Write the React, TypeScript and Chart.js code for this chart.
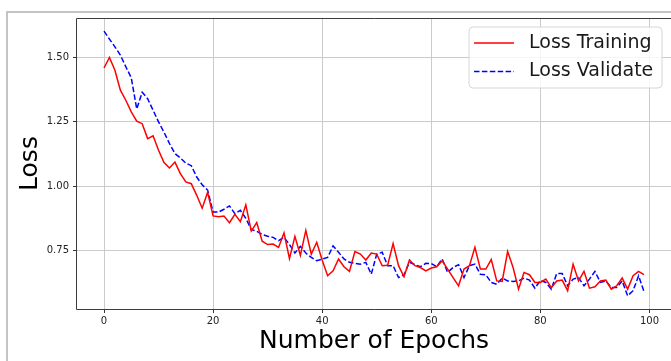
import React, { useEffect, useRef } from "react";
import { Chart, registerables } from "chart.js";

Chart.register(...registerables);

const lossTraining = [
  1.459, 1.5, 1.45, 1.373, 1.334, 1.289, 1.253, 1.243, 1.185, 1.196,
  1.14, 1.092, 1.071, 1.094, 1.049, 1.017, 1.01, 0.965, 0.915, 0.977,
  0.885, 0.882, 0.885, 0.859, 0.891, 0.863, 0.928, 0.826, 0.859, 0.787,
  0.774, 0.776, 0.763, 0.819, 0.719, 0.806, 0.732, 0.829, 0.737, 0.783,
  0.713, 0.653, 0.672, 0.718, 0.688, 0.67, 0.747, 0.737, 0.714, 0.741,
  0.737, 0.692, 0.694, 0.778, 0.692, 0.649, 0.714, 0.692, 0.685, 0.672,
  0.683, 0.688, 0.711, 0.679, 0.646, 0.614, 0.679, 0.692, 0.763, 0.679,
  0.679, 0.716, 0.633, 0.631, 0.747, 0.685, 0.601, 0.666, 0.657, 0.627,
  0.627, 0.64, 0.607, 0.633, 0.636, 0.595, 0.698, 0.633, 0.67, 0.605,
  0.61, 0.633, 0.636, 0.601, 0.614, 0.644, 0.601, 0.653, 0.67, 0.657,
];

const lossValidate = [
  1.602, 1.571, 1.541, 1.509, 1.464, 1.421, 1.3, 1.365, 1.34, 1.295,
  1.25, 1.21, 1.166, 1.127, 1.11, 1.09, 1.08, 1.036, 1.006, 0.985,
  0.9, 0.9, 0.911, 0.924, 0.894, 0.907, 0.876, 0.832, 0.826, 0.813,
  0.806, 0.802, 0.789, 0.802, 0.774, 0.741, 0.767, 0.741, 0.724, 0.711,
  0.718, 0.724, 0.769, 0.744, 0.718, 0.705, 0.701, 0.698, 0.705, 0.659,
  0.737, 0.744, 0.692, 0.692, 0.646, 0.657, 0.705, 0.696, 0.688, 0.701,
  0.7, 0.688, 0.718, 0.666, 0.685, 0.696, 0.646, 0.692, 0.698, 0.659,
  0.657, 0.627, 0.62, 0.644, 0.633, 0.631, 0.633, 0.644, 0.636, 0.605,
  0.635, 0.627, 0.601, 0.662, 0.662, 0.614, 0.64, 0.646, 0.614, 0.64,
  0.67, 0.627, 0.633, 0.607, 0.607, 0.633, 0.575, 0.595, 0.653, 0.592,
];

const xTicks = [0, 20, 40, 60, 80, 100];
const yTicks = [0.75, 1.0, 1.25, 1.5];

const seriesLabels = ["Loss Training", "Loss Validate"];
const xTitle = "Number of Epochs";
const yTitle = "Loss";

const FONT = "'DejaVu Sans', sans-serif";

const pageFramePlugin = {
  id: "pageFrame",
  beforeDraw(chart: any) {
    const { ctx, width, height } = chart;
    ctx.save();
    ctx.strokeStyle = "#c4c4c4";
    ctx.lineWidth = 2;
    ctx.beginPath();
    ctx.moveTo(7, height + 2);
    ctx.lineTo(7, 12);
    ctx.lineTo(width + 2, 12);
    ctx.stroke();
    ctx.restore();
  },
};

const framePlugin = {
  id: "mplFrame",
  afterDatasetsDraw(chart: any) {
    const { ctx, chartArea: a } = chart;
    const l = Math.round(a.left) - 0.5;
    const t = Math.round(a.top) + 0.5;
    const b = Math.round(a.bottom) + 0.5;
    ctx.save();
    ctx.strokeStyle = "#3c3c3c";
    ctx.lineWidth = 1;
    ctx.beginPath();
    ctx.moveTo(a.right + 5, t);
    ctx.lineTo(l, t);
    ctx.lineTo(l, b);
    ctx.lineTo(a.right + 5, b);
    ctx.stroke();
    ctx.restore();
  },
};

const legendPlugin = {
  id: "mplLegend",
  afterDraw(chart: any) {
    const { ctx } = chart;
    const x0 = 469;
    const y0 = 27;
    const w = 193;
    const h = 61;
    const r = 4;
    ctx.save();
    ctx.beginPath();
    ctx.moveTo(x0 + r, y0);
    ctx.lineTo(x0 + w - r, y0);
    ctx.quadraticCurveTo(x0 + w, y0, x0 + w, y0 + r);
    ctx.lineTo(x0 + w, y0 + h - r);
    ctx.quadraticCurveTo(x0 + w, y0 + h, x0 + w - r, y0 + h);
    ctx.lineTo(x0 + r, y0 + h);
    ctx.quadraticCurveTo(x0, y0 + h, x0, y0 + h - r);
    ctx.lineTo(x0, y0 + r);
    ctx.quadraticCurveTo(x0, y0, x0 + r, y0);
    ctx.closePath();
    ctx.fillStyle = "rgba(255,255,255,0.8)";
    ctx.fill();
    ctx.strokeStyle = "#d6d6d6";
    ctx.lineWidth = 1;
    ctx.stroke();

    chart.data.datasets.forEach((ds: any, i: number) => {
      const cy = y0 + 16 + i * 28.5;
      ctx.beginPath();
      ctx.strokeStyle = ds.borderColor;
      ctx.lineWidth = ds.borderWidth;
      ctx.setLineDash(ds.borderDash || []);
      ctx.moveTo(x0 + 5, cy);
      ctx.lineTo(x0 + 45, cy);
      ctx.stroke();
      ctx.setLineDash([]);
      ctx.fillStyle = "#1a1a1a";
      ctx.font = `19px ${FONT}`;
      ctx.textBaseline = "middle";
      ctx.textAlign = "left";
      ctx.fillText(ds.label, x0 + 60, cy);
    });
    ctx.restore();
  },
};

export default function App() {
  const canvasRef = useRef<HTMLCanvasElement | null>(null);

  useEffect(() => {
    if (!canvasRef.current) return;
    const chart = new Chart(canvasRef.current, {
      type: "line",
      data: {
        datasets: [
          {
            label: seriesLabels[0],
            data: lossTraining.map((y, i) => ({ x: i, y })),
            borderColor: "#ff0000",
            borderWidth: 1.5,
            pointRadius: 0,
            tension: 0,
            fill: false,
          },
          {
            label: seriesLabels[1],
            data: lossValidate.map((y, i) => ({ x: i, y })),
            borderColor: "#0000ff",
            borderWidth: 1.5,
            borderDash: [5.5, 2.4],
            pointRadius: 0,
            tension: 0,
            fill: false,
          },
        ],
      },
      options: {
        animation: false,
        responsive: false,
        layout: { padding: { top: 18, left: 0, right: 0, bottom: 0 } },
        plugins: {
          legend: { display: false },
          tooltip: { enabled: false },
        },
        scales: {
          x: {
            type: "linear",
            min: -4.95,
            max: 103.95,
            afterBuildTicks: (s: any) => {
              s.ticks = xTicks.map((v) => ({ value: v }));
            },
            afterFit: (s: any) => {
              s.height = 52;
            },
            border: { display: false },
            grid: {
              color: "#cbcbcb",
              lineWidth: 1,
              tickLength: 4,
              tickColor: "#333333",
            },
            ticks: {
              autoSkip: false,
              maxRotation: 0,
              padding: 2,
              color: "#222222",
              font: { family: FONT, size: 10 },
              callback: (v: any) => String(v),
            },
            title: {
              display: true,
              text: xTitle,
              color: "#000000",
              font: { family: FONT, size: 25 },
              padding: { top: 0, bottom: 5 },
            },
          },
          y: {
            type: "linear",
            min: 0.524,
            max: 1.653,
            afterBuildTicks: (s: any) => {
              s.ticks = yTicks.map((v) => ({ value: v }));
            },
            afterFit: (s: any) => {
              s.width = 77;
            },
            border: { display: false },
            grid: {
              color: "#cbcbcb",
              lineWidth: 1,
              tickLength: 4,
              tickColor: "#333333",
            },
            ticks: {
              autoSkip: false,
              padding: 4,
              color: "#222222",
              font: { family: FONT, size: 10 },
              callback: (v: any) => Number(v).toFixed(2),
            },
            title: {
              display: true,
              text: yTitle,
              color: "#000000",
              font: { family: FONT, size: 25 },
              padding: { top: 15, bottom: 0 },
            },
          },
        },
      },
      plugins: [pageFramePlugin, framePlugin, legendPlugin],
    });
    return () => chart.destroy();
  }, []);

  return (
    <div
      style={{
        position: "fixed",
        left: 0,
        top: 0,
        width: 671,
        height: 361,
        overflow: "hidden",
        background: "#ffffff",
      }}
    >
      <canvas
        ref={canvasRef}
        width={671}
        height={361}
        style={{ display: "block", width: 671, height: 361 }}
      />
    </div>
  );
}
